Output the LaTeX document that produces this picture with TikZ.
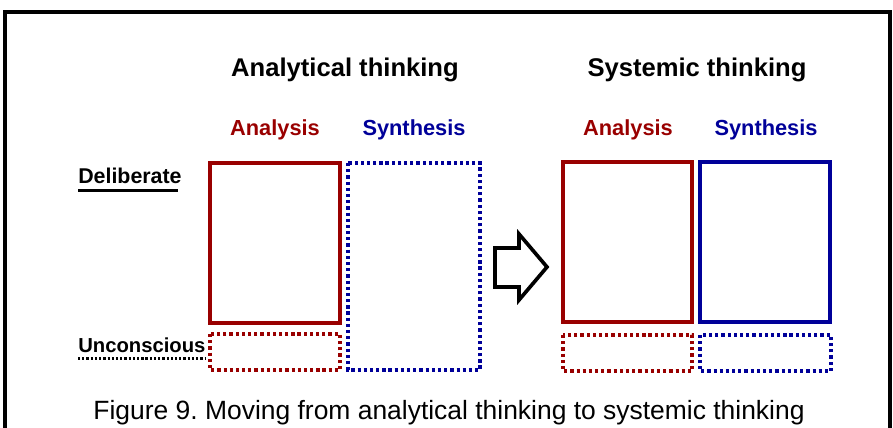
\documentclass[tikz,border=0pt]{standalone}
\usepackage{fontspec}
\setmainfont{Liberation Sans}
\usepackage{xcolor}
\usepackage{tikz}
\definecolor{analysisred}{RGB}{153, 0, 0}
\definecolor{synthesisblue}{RGB}{0, 0, 153}

\begin{document}
\begin{tikzpicture}[x=0.025cm, y=-0.025cm,
    heading/.style={font=\fontsize{18.2}{20}\selectfont\bfseries},
    colhead/.style={font=\fontsize{15.5}{18}\selectfont\bfseries},
    rowlabel/.style={font=\fontsize{15.2}{18}\selectfont\bfseries, anchor=base west, inner sep=0pt},
    solidbox/.style={line width=2.2pt},
    dotbox/.style={line width=2.5pt, dash pattern=on 2.3pt off 2.1pt}]
    \useasboundingbox (0,0) rectangle (893,427);
    \draw[line width=2.6pt] (5,440) -- (5,12) -- (890,12) -- (890,440);
    \node[heading] (analytical) at (345,70) {Analytical thinking};
    \node[heading] (systemic) at (697,70) {Systemic thinking};
    \node[colhead, analysisred] (anaL) at (275,130) {Analysis};
    \node[colhead, synthesisblue] (synL) at (414,130) {Synthesis};
    \node[colhead, analysisred] (anaR) at (628,130) {Analysis};
    \node[colhead, synthesisblue] (synR) at (766,130) {Synthesis};
    \node[rowlabel] (deliberate) at (78,183) {Deliberate};
    \draw[line width=2pt] (deliberate.south west) ++(0,7) -- ++(100,0);
    \node[rowlabel, font=\fontsize{14.4}{18}\selectfont\bfseries] (unconscious) at (78,352) {Unconscious};
    \draw[line width=2pt, dash pattern=on 1.6pt off 1.4pt] (unconscious.south west) ++(0,6) -- ++(127,0);
    \draw[solidbox, analysisred] (210,163) rectangle (340,323);
    \draw[dotbox, analysisred] (210,334) rectangle (340,370);
    \draw[dotbox, synthesisblue] (348,163) rectangle (480,370);
    \draw[line width=2.6pt, line join=miter] (495,248) -- (519,248) -- (519,234) -- (547,267)
        -- (519,300) -- (519,287) -- (495,287) -- cycle;
    \draw[solidbox, analysisred] (563,162) rectangle (692,322);
    \draw[solidbox, synthesisblue] (700,162) rectangle (830,322);
    \draw[dotbox, analysisred] (563,335) rectangle (692,371);
    \draw[dotbox, synthesisblue] (700,335) rectangle (831,371);
    \node[font=\fontsize{18.8}{21}\selectfont] (caption) at (449,413) {Figure 9.\ Moving from analytical thinking to systemic thinking};
\end{tikzpicture}
\end{document}
